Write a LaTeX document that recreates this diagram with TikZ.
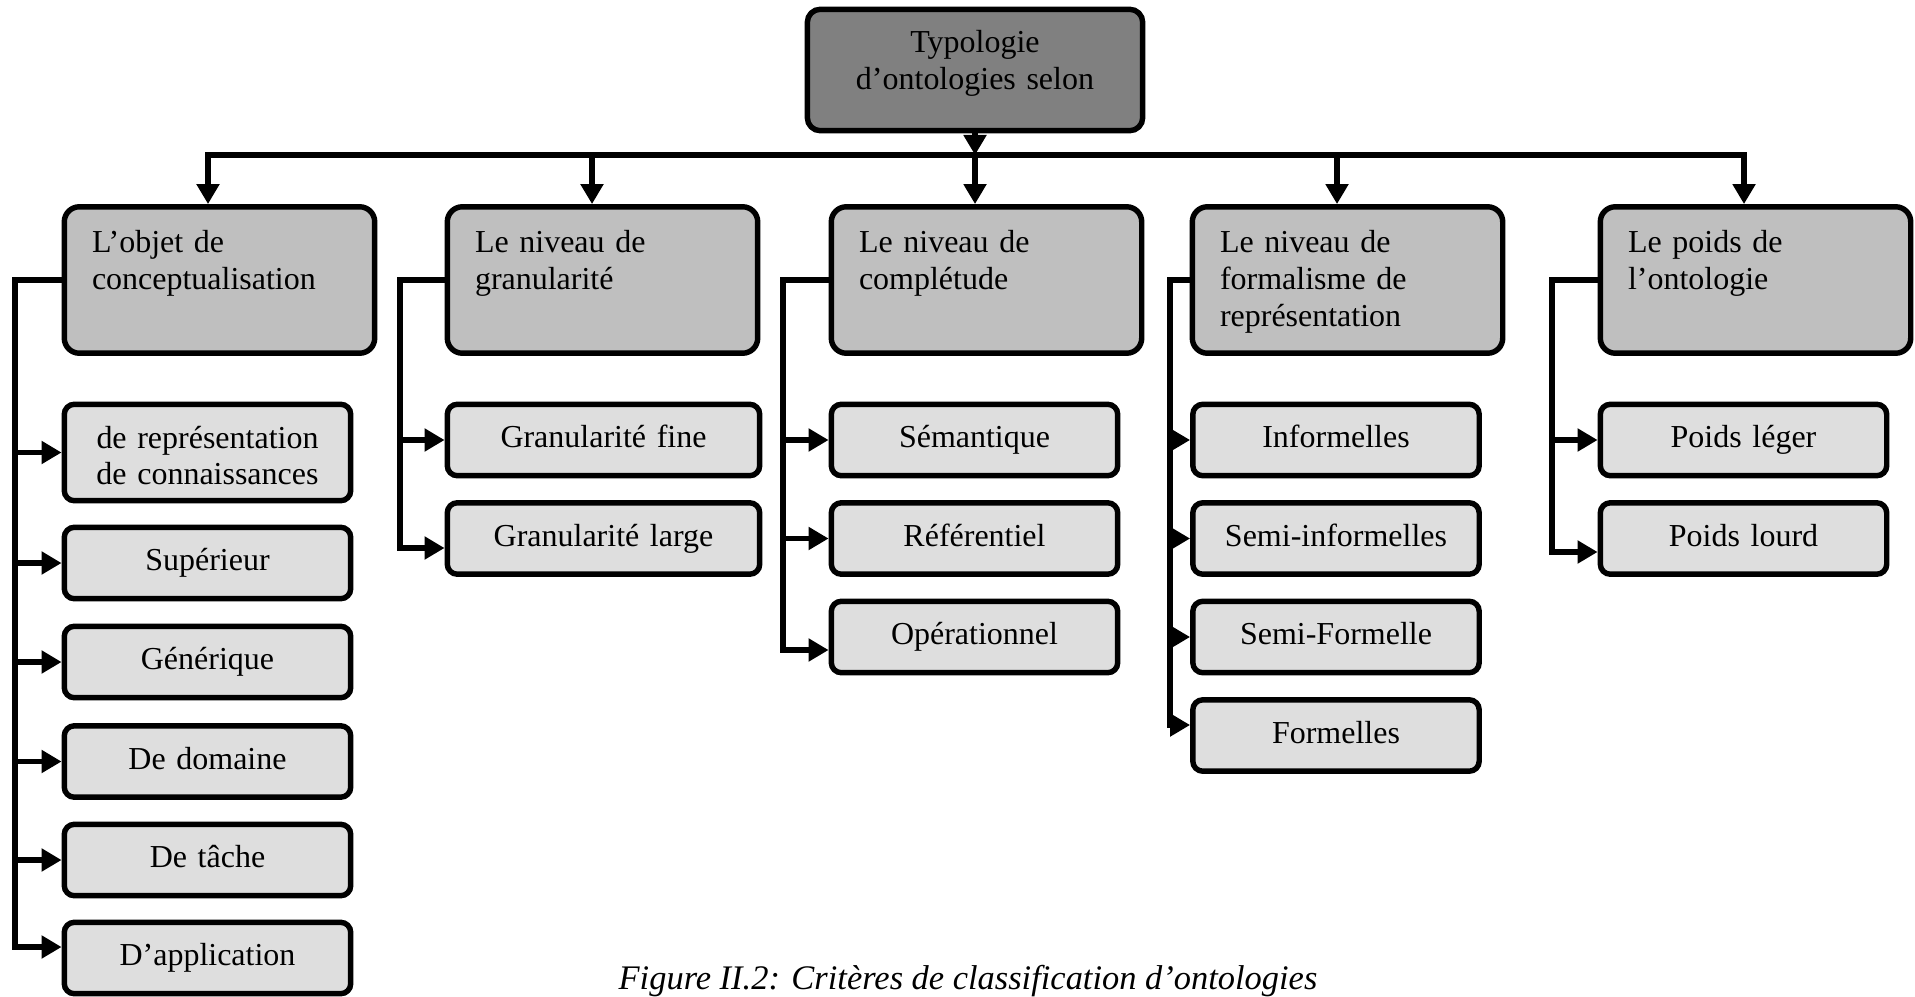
\documentclass[tikz,border=0pt]{standalone}
\usepackage{fontspec}
\setmainfont{Liberation Serif}
\usetikzlibrary{arrows.meta}

\begin{document}
\begin{tikzpicture}[
	box/.style={draw=black,line width=1.55pt,font=\fontsize{9.1}{10.5}\selectfont},
	rootbox/.style={box,fill=black!50,rounded corners=0.13cm,text width=3.054cm,align=center,inner xsep=0.15cm,inner ysep=0.2cm,text height=0.237cm,text depth=0.577cm},
	critbox/.style={box,fill=black!25,rounded corners=0.15cm,text width=2.55cm,align=left,inner xsep=0.277cm,inner ysep=0.2cm,text height=0.257cm,text depth=0.807cm},
	typebox/.style={box,fill=black!13,rounded corners=0.1cm,text width=2.864cm,align=center,inner sep=0pt,minimum height=0.714cm,text height=0.22cm,text depth=0.07cm},
	conn/.style={line width=1.55pt,line cap=rect},
	arr/.style={conn,-{Triangle[length=0.2cm,width=0.22cm]}}]

	\useasboundingbox (0,0) rectangle (19.15,-9.96);

	\node[rootbox] (root) at (9.75,-0.70) {Typologie\\d’ontologies selon};

	\node[critbox] (obj) at (2.195,-2.80) {L’objet de\\conceptualisation};
	\node[critbox] (gran) at (6.025,-2.80) {Le niveau de\\granularité};
	\node[critbox] (compl) at (9.865,-2.80) {Le niveau de\\complétude};
	\node[critbox] (form) at (13.475,-2.80) {Le niveau de\\formalisme de\\représentation};
	\node[critbox] (poids) at (17.555,-2.80) {Le poids de\\l’ontologie};

	\node[typebox,minimum height=0.964cm,text depth=0.31cm] (rep) at (2.075,-4.525) {de représentation\\de connaissances};
	\node[typebox] (sup) at (2.075,-5.63) {Supérieur};
	\node[typebox] (gen) at (2.075,-6.62) {Générique};
	\node[typebox] (dom) at (2.075,-7.615) {De domaine};
	\node[typebox] (tache) at (2.075,-8.60) {De tâche};
	\node[typebox] (app) at (2.075,-9.58) {D’application};

	\node[typebox,text width=3.124cm] (fine) at (6.035,-4.40) {Granularité fine};
	\node[typebox,text width=3.124cm] (large) at (6.035,-5.385) {Granularité large};

	\node[typebox] (sem) at (9.745,-4.40) {Sémantique};
	\node[typebox] (ref) at (9.745,-5.385) {Référentiel};
	\node[typebox] (oper) at (9.745,-6.37) {Opérationnel};

	\node[typebox] (inf) at (13.36,-4.40) {Informelles};
	\node[typebox] (seminf) at (13.36,-5.385) {Semi-informelles};
	\node[typebox] (semform) at (13.36,-6.37) {Semi-Formelle};
	\node[typebox] (formel) at (13.36,-7.355) {Formelles};

	\node[typebox] (leger) at (17.435,-4.40) {Poids léger};
	\node[typebox] (lourd) at (17.435,-5.385) {Poids lourd};

	\node[font=\fontsize{9.8}{11}\selectfont\itshape,anchor=base] (cap) at (9.68,-9.89) {Figure II.2: Critères de classification d’ontologies};

	% bus under the root
	\coordinate (bus1) at (2.08,-1.55);
	\coordinate (bus2) at (5.92,-1.55);
	\coordinate (bus3) at (9.75,-1.55);
	\coordinate (bus4) at (13.37,-1.55);
	\coordinate (bus5) at (17.44,-1.55);

	\draw[arr] (root) -- (root |- bus3);
	\draw[conn] (bus1) -- (bus5);
	\draw[arr] (bus1) -- (bus1 |- obj.north);
	\draw[arr] (bus2) -- (bus2 |- gran.north);
	\draw[arr] (bus3) -- (bus3 |- compl.north);
	\draw[arr] (bus4) -- (bus4 |- form.north);
	\draw[arr] (bus5) -- (bus5 |- poids.north);

	% ends of the side lines
	\coordinate (v1) at (0.15,-9.47);
	\coordinate (v2) at (4.00,-5.48);
	\coordinate (v3) at (7.83,-6.50);
	\coordinate (v4) at (11.70,-7.25);
	\coordinate (v5) at (15.52,-5.52);

	\draw[conn] (obj.west) -| (v1);
	\draw[arr] (v1 |- rep.west) -- (rep.west);
	\draw[arr] (v1 |- sup.west) -- (sup.west);
	\draw[arr] (v1 |- gen.west) -- (gen.west);
	\draw[arr] (v1 |- dom.west) -- (dom.west);
	\draw[arr] (v1 |- tache.west) -- (tache.west);
	\draw[arr] (v1) -- (v1 -| app.west);

	\draw[conn] (gran.west) -| (v2);
	\draw[arr] (v2 |- fine.west) -- (fine.west);
	\draw[arr] (v2) -- (v2 -| large.west);

	\draw[conn] (compl.west) -| (v3);
	\draw[arr] (v3 |- sem.west) -- (sem.west);
	\draw[arr] (v3 |- ref.west) -- (ref.west);
	\draw[arr] (v3) -- (v3 -| oper.west);

	\draw[conn] (form.west) -| (v4);
	\draw[arr] (v4 |- inf.west) -- (inf.west);
	\draw[arr] (v4 |- seminf.west) -- (seminf.west);
	\draw[arr] (v4 |- semform.west) -- (semform.west);
	\draw[arr] (v4) -- (v4 -| formel.west);

	\draw[conn] (poids.west) -| (v5);
	\draw[arr] (v5 |- leger.west) -- (leger.west);
	\draw[arr] (v5) -- (v5 -| lourd.west);
\end{tikzpicture}
\end{document}
